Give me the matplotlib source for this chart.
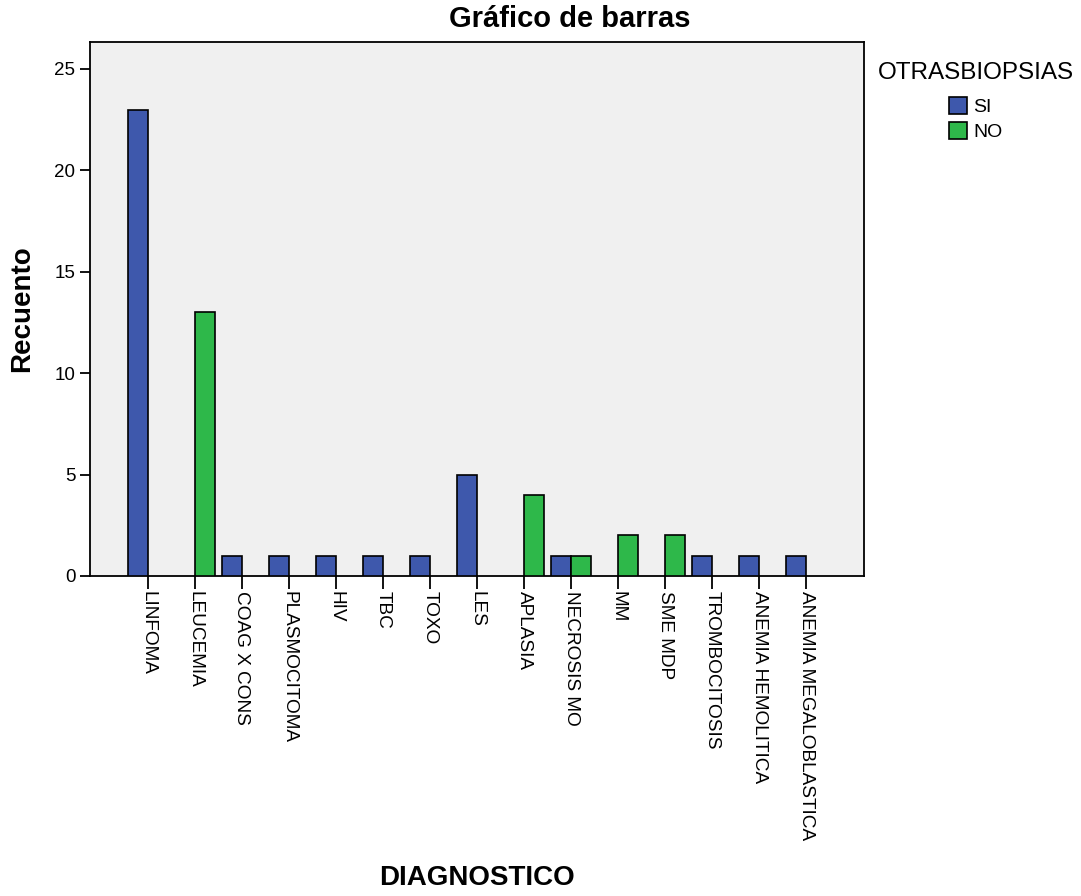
import numpy as np
import matplotlib.pyplot as plt
from matplotlib.patches import Patch

plt.rcParams['font.family'] = ['Liberation Sans', 'DejaVu Sans']

categories = ['LINFOMA', 'LEUCEMIA', 'COAG X CONS', 'PLASMOCITOMA', 'HIV', 'TBC', 'TOXO',
              'LES', 'APLASIA', 'NECROSIS MO', 'MM', 'SME MDP', 'TROMBOCITOSIS',
              'ANEMIA HEMOLITICA', 'ANEMIA MEGALOBLASTICA']
si_counts = [23, 0, 1, 1, 1, 1, 1, 5, 0, 1, 0, 0, 1, 1, 1]
no_counts = [0, 13, 0, 0, 0, 0, 0, 0, 4, 1, 2, 2, 0, 0, 0]
series_names = ['SI', 'NO']
colors = ['#3e58ac', '#2eb84a']

fig = plt.figure(figsize=(10.81, 8.96), dpi=100)
ax = fig.add_axes([90 / 1081, 320 / 896, 774 / 1081, 534 / 896])
ax.set_facecolor('#f0f0f0')

x = np.arange(len(categories))
w = 0.425
for vals, off, col in [(si_counts, -w / 2, colors[0]), (no_counts, w / 2, colors[1])]:
    v = np.array(vals, dtype=float)
    m = v > 0
    ax.bar(x[m] + off, v[m], width=w, color=col, edgecolor='black', linewidth=1.2, zorder=3)

ax.set_xlim(-1.234, len(categories) - 1 + 1.234)
ax.set_ylim(0, 26.33)
ax.set_yticks([0, 5, 10, 15, 20, 25])
ax.set_xticks(x)
ax.set_xticklabels(categories, rotation=270, fontsize=13.7)
ax.tick_params(axis='y', labelsize=13.5, length=7, width=1.3, direction='out')
ax.tick_params(axis='x', length=9.5, width=1.3, direction='out', pad=1)
for s in ax.spines.values():
    s.set_linewidth(1.3)

fig.text(22 / 1081, 1 - 309 / 896, 'Recuento', rotation=90, fontsize=20, fontweight='bold',
         ha='center', va='center')
fig.text(477 / 1081, 1 - 878 / 896, 'DIAGNOSTICO', fontsize=20, fontweight='bold',
         ha='center', va='center')
fig.text(570 / 1081, 1 - 19 / 896, 'Gráfico de barras', fontsize=21, fontweight='bold',
         ha='center', va='center')

handles = [Patch(facecolor=c, edgecolor='black', linewidth=1.2) for c in colors]
leg = fig.legend(handles, series_names, title='OTRASBIOPSIAS', loc='upper left',
                 bbox_to_anchor=(860 / 1081, 1 - 45 / 896), frameon=False, fontsize=14,
                 title_fontsize=17.5, handlelength=0.95, handleheight=0.95, handletextpad=0.3,
                 labelspacing=0.3)
leg._legend_box.sep = 9

fig.savefig('out.png', dpi=100)
